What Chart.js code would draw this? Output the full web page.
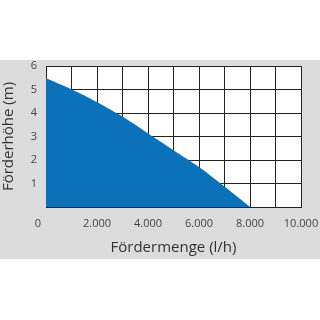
<!DOCTYPE html>
<html>
<head>
<meta charset="utf-8">
<script src="https://cdn.jsdelivr.net/npm/chart.js@4"></script>
<style>
html,body{margin:0;padding:0;background:#fff;}
canvas{display:block;}
</style>
</head>
<body>
<canvas id="c" width="320" height="320"></canvas>
<script>
const flowRates = [0, 1000, 2000, 3000, 4000, 5000, 6000, 7000, 8000];
const heads = [5.48, 5.01, 4.46, 3.85, 3.13, 2.42, 1.70, 0.87, 0];
const xTitle = 'Fördermenge (l/h)';
const yTitle = 'Förderhöhe (m)';
const originLabel = '0';

const fmt = v => v === 0 ? '0' : (v / 1000) + '.000';

const bgPlugin = {
  id: 'bg',
  beforeDraw(chart) {
    const ctx = chart.ctx, a = chart.chartArea;
    ctx.save();
    ctx.fillStyle = '#dcdcdc';
    ctx.fillRect(0, 60, 320, 199);
    ctx.fillStyle = '#ffffff';
    ctx.fillRect(a.left, a.top, a.right - a.left, a.bottom - a.top);
    ctx.restore();
  },
  afterDraw(chart) {
    const ctx = chart.ctx;
    ctx.save();
    ctx.font = '11px "Open Sans"';
    ctx.fillStyle = '#444';
    ctx.textAlign = 'center';
    ctx.textBaseline = 'middle';
    ctx.fillText(originLabel, 38, 224);
    ctx.restore();
  }
};

new Chart(document.getElementById('c'), {
  type: 'line',
  data: {
    datasets: [{
      data: flowRates.map((x, i) => ({x: x, y: heads[i]})),
      fill: 'origin',
      backgroundColor: '#0b72b9',
      borderWidth: 0,
      borderColor: '#0b72b9',
      pointRadius: 0,
      tension: 0.3
    }]
  },
  plugins: [bgPlugin],
  options: {
    responsive: false,
    animation: false,
    devicePixelRatio: 1,
    layout: {padding: {left: 0, top: 66, right: 19, bottom: 59}},
    plugins: {legend: {display: false}, tooltip: {enabled: false}},
    scales: {
      x: {
        type: 'linear',
        min: 0, max: 10000,
        z: 1,
        border: {color: '#222', width: 1},
        grid: {color: '#222', lineWidth: 1, drawTicks: false},
        ticks: {
          stepSize: 1000,
          autoSkip: false,
          maxRotation: 0,
          padding: 10,
          color: '#444',
          font: {family: 'Open Sans', size: 11},
          callback: v => (v !== 0 && v % 2000 === 0) ? fmt(v) : ''
        },
        title: {
          display: true, text: xTitle, color: '#333',
          font: {family: 'Open Sans', size: 15},
          padding: {top: 4, bottom: 4}
        },
        afterFit(s) { s.height = 54; s.paddingRight = 0; s.paddingLeft = 0; }
      },
      y: {
        min: 0, max: 6,
        z: 1,
        border: {color: '#222', width: 1},
        grid: {color: '#222', lineWidth: 1, drawTicks: false},
        ticks: {
          stepSize: 1,
          padding: 9,
          color: '#444',
          font: {family: 'Open Sans', size: 11},
          callback: v => v === 0 ? '' : String(v)
        },
        title: {
          display: true, text: yTitle, color: '#333',
          font: {family: 'Open Sans', size: 15},
          padding: {top: 0, bottom: 0}
        },
        afterFit(s) { s.width = 46; s.paddingTop = 0; s.paddingBottom = 0; }
      }
    }
  }
});
</script>
</body>
</html>
